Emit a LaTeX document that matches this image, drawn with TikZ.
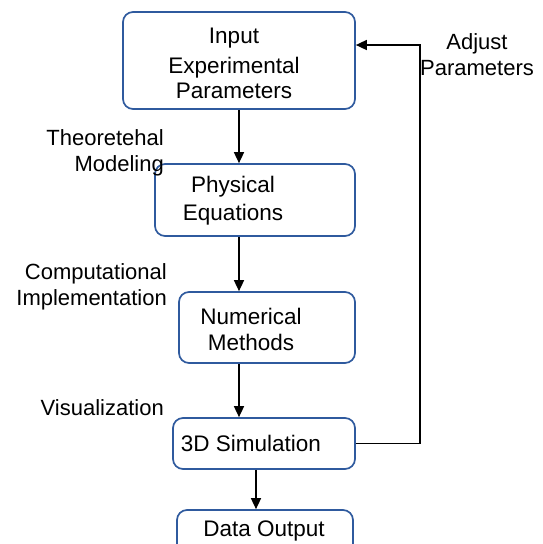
\documentclass[tikz,border=0pt]{standalone}
\usepackage{fontspec}
\setmainfont{Liberation Sans}
\usetikzlibrary{arrows.meta}
\definecolor{boxblue}{HTML}{2F5A9E}
\begin{document}
\begin{tikzpicture}[x=1pt,y=-1pt,
  box/.style={draw=boxblue,line width=1.7pt,rounded corners=10pt,fill=white,inner sep=0pt},
  txt/.style={font=\fontsize{22.5}{25}\selectfont,align=center,inner sep=0pt},
  lbl/.style={font=\fontsize{22}{26}\selectfont,inner sep=0pt},
  arr/.style={line width=1.6pt,-{Triangle[length=11pt,width=10pt]}}]
\useasboundingbox (0,0) rectangle (542,544);
\clip (0,0) rectangle (542,544);
% boxes
\node[box,minimum width=232pt,minimum height=97pt] (in) at (239,60.5) {};
\node[box,minimum width=200pt,minimum height=72pt] (phys) at (255,200) {};
\node[box,minimum width=176pt,minimum height=71pt] (num) at (267,327.5) {};
\node[box,minimum width=182pt,minimum height=51pt] (sim) at (264,443.5) {};
\node[box,minimum width=176pt,minimum height=60pt] (out) at (265,540) {};
% box texts
\node[txt] (tin) at (234,63) {Input\\[5pt]Experimental\\Parameters};
\node[txt] (tphys) at (233,201) {Physical\\[3pt]Equations};
\node[txt] (tnum) at (251,329) {Numerical\\[1pt]Methods};
\node[txt] (tsim) at (251,443) {3D Simulation};
\node[txt] (tout) at (264,531) {Data Output};
% side labels
\node[lbl,align=right,anchor=east] (l1) at (164,153) {Theoretehal\\Modeling};
\node[lbl,align=right,anchor=east] (l2) at (167,287) {Computational\\Implementation};
\node[lbl,anchor=east] (l3) at (164,408) {Visualization};
\node[lbl,align=center] (l4) at (477,55) {Adjust\\Parameters};
% arrows
\draw[arr] (in.south) -- (in.south |- phys.north);
\draw[arr] (phys.south -| in.south) -- (num.north -| in.south);
\draw[arr] (num.south -| in.south) -- (sim.north -| in.south);
\coordinate (d) at (256,0);
\draw[arr] (sim.south -| d) -- (out.north -| d);
\coordinate (fb) at (420,45);
\draw[arr] (sim.east) -| (fb) -- (fb -| in.east);
\end{tikzpicture}
\end{document}
